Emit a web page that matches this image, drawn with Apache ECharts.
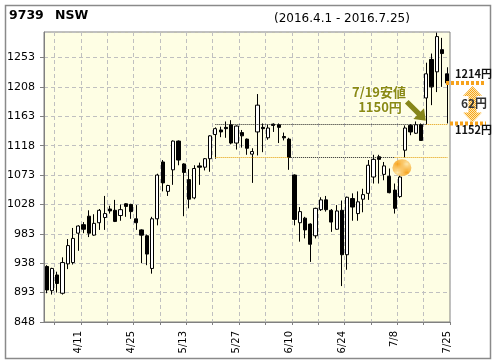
<!DOCTYPE html>
<html><head><meta charset="utf-8">
<script src="https://cdn.jsdelivr.net/npm/echarts@6/dist/echarts.min.js"></script>
<style>html,body{margin:0;padding:0;background:#fff}#c{width:496px;height:364px}</style>
</head><body><div id="c"></div>
<script>
const dates = ['4/1','4/4','4/5','4/6','4/7','4/8','4/11','4/12','4/13','4/14','4/15','4/18','4/19','4/20','4/21','4/22','4/25','4/26','4/27','4/28','5/2','5/6','5/9','5/10','5/11','5/12','5/13','5/16','5/17','5/18','5/19','5/20','5/23','5/24','5/25','5/26','5/27','5/30','5/31','6/1','6/2','6/3','6/6','6/7','6/8','6/9','6/10','6/13','6/14','6/15','6/16','6/17','6/20','6/21','6/22','6/23','6/24','6/27','6/28','6/29','6/30','7/1','7/4','7/5','7/6','7/7','7/8','7/11','7/12','7/13','7/14','7/15','7/19','7/20','7/21','7/22','7/25'];
const openP = [933,896,920,892,937,939,984,997,1010,981,
  1000,1008,1021,1019,1011,1029,1028,1006,989,980,
  930,1006,1093,1048,1081,1125,1090,1066,1038,1087,
  1085,1098,1135,1142,1146,1150,1122,1138,1128,1105,
  1139,1146,1130,1151,1150,1132,1128,1073,1000,1007,
  998,980,1020,1035,1019,990,1019,951,1037,1014,
  1036,1045,1070,1101,1074,1071,1050,1040,1111,1149,
  1137,1150,1191,1250,1231,1265,1228];
const highP = [935,931,925,947,975,992,996,1001,1019,1013,
  1021,1041,1026,1035,1028,1030,1029,1027,990,982,
  1009,1075,1096,1058,1126,1126,1091,1082,1088,1092,
  1099,1134,1146,1147,1155,1157,1149,1142,1129,1114,
  1197,1152,1150,1152,1152,1138,1130,1074,1024,1009,
  999,1023,1039,1041,1021,1027,1034,1040,1045,1048,
  1052,1096,1104,1104,1093,1083,1060,1079,1149,1151,
  1155,1152,1245,1259,1291,1283,1238];
const lowP = [892,890,893,890,929,936,957,984,978,980,
  989,989,1014,1001,1003,1009,1006,989,938,935,
  922,996,1048,1041,1058,1088,1010,1022,1036,1058,
  1080,1078,1098,1131,1130,1120,1112,1115,1104,1061,
  1103,1108,1127,1139,1122,1126,1081,996,971,976,
  940,976,1018,1017,986,989,903,928,1003,1003,
  1016,1035,1060,1060,1065,1045,1014,1038,1100,1134,
  1136,1150,1150,1180,1200,1208,1152];
const closeP = [897,930,907,939,965,976,995,990,984,999,
  1019,1014,1018,1002,1020,1025,1017,1000,981,952,
  1006,1073,1061,1057,1125,1096,1077,1036,1083,1085,
  1098,1133,1144,1139,1144,1122,1148,1133,1114,1109,
  1180,1144,1145,1149,1146,1130,1100,1005,1017,989,
  967,1022,1035,1020,1001,1018,951,1039,1024,1032,
  1043,1088,1097,1097,1087,1046,1022,1070,1145,1139,
  1150,1126,1228,1208,1285,1259,1214];
const yMin = 848, yMax = 1292, yStep = 45;
const xLabelDates = ['4/11','4/25','5/13','5/27','6/10','6/24','7/8','7/25'];
const titleCode = '9739', titleName = 'NSW', periodText = '(2016.4.1 - 2016.7.25)';
const lowDate = '7/19', lowValue = 1150, lowText1 = '7/19安値', lowText2 = '1150円';
const supportValue = 1100, lineStartDate = '5/23';
const rangeHigh = 1214, rangeLow = 1152, rangeDiffText = '62円';
const circleDate = '7/11', circleValue = 1084;

const ORANGE = '#f7a21b', OLIVE = '#8a8a14';
function checker(color, bg) {
  const c = document.createElement('canvas'); c.width = 2; c.height = 2;
  const g = c.getContext('2d');
  g.fillStyle = bg; g.fillRect(0, 0, 2, 2);
  g.fillStyle = color;
  g.fillRect(0, 0, 1, 1); g.fillRect(1, 1, 1, 1);
  return { image: c, repeat: 'repeat' };
}
const orangePat = checker(ORANGE, '#fde9b0');

const chart = echarts.init(document.getElementById('c'), null, { renderer: 'canvas' });
const candleData = dates.map((d, i) => [openP[i], closeP[i], lowP[i], highP[i]]);

const dark = { color: '#222', type: [1, 1], width: 1 };
const orng = { color: '#e39a00', type: [1, 1], width: 1 };

chart.setOption({
  animation: false,
  grid: { left: 44, right: 46, top: 32, bottom: 42, containLabel: false, outerBoundsMode: 'none',
          show: true, backgroundColor: '#fefee4', borderColor: '#808080', borderWidth: 1 },
  xAxis: {
    type: 'category', data: dates, boundaryGap: true,
    axisLine: { lineStyle: { color: '#808080', width: 1 } },
    axisTick: { show: true, interval: (i) => i % 5 === 2, length: 3, lineStyle: { color: '#808080' } },
    axisLabel: { interval: (i, v) => xLabelDates.includes(v), rotate: 90, margin: 9,
                 color: '#000', fontSize: 10, fontFamily: 'DejaVu Sans' },
    splitLine: { show: true, interval: (i) => i % 5 === 2, lineStyle: { color: '#c0c0c0', type: [4, 3] } }
  },
  yAxis: {
    type: 'value', min: yMin, max: yMax, interval: yStep, scale: true,
    axisLine: { show: true, lineStyle: { color: '#808080', width: 1 } },
    axisTick: { show: true, length: 4, lineStyle: { color: '#808080' } },
    axisLabel: { showMaxLabel: false, margin: 9, color: '#000', fontSize: 11, fontFamily: 'DejaVu Sans',
                 formatter: (v) => String(v) },
    splitLine: { show: true, lineStyle: { color: '#c0c0c0', type: [4, 3] } }
  },
  series: [{
    type: 'candlestick', data: candleData, barWidth: 3.6,
    itemStyle: { color: '#ffffff', color0: '#000000', borderColor: '#000000', borderColor0: '#000000', borderWidth: 1 },
    markLine: {
      silent: true, symbol: ['none', 'none'], label: { show: false }, animation: false,
      data: [
        [{ coord: [lineStartDate, lowValue], lineStyle: dark }, { coord: [lowDate, lowValue] }],
        [{ coord: [lowDate, lowValue], lineStyle: orng }, { coord: [dates[dates.length - 1], lowValue] }],
        [{ coord: [lineStartDate, supportValue], lineStyle: orng }, { coord: ['6/10', supportValue] }],
        [{ coord: ['6/10', supportValue], lineStyle: dark }, { coord: ['7/8', supportValue] }],
        [{ coord: ['7/8', supportValue], lineStyle: orng }, { coord: [dates[dates.length - 1], supportValue] }]
      ]
    },
    markPoint: {
      silent: true, animation: false, label: { show: false },
      data: [{ coord: [circleDate, circleValue], symbol: 'circle', symbolSize: [19, 17], symbolOffset: [2, 0],
               itemStyle: { color: orangePat } }]
    }
  }]
});

const yHi = chart.convertToPixel({ yAxisIndex: 0 }, rangeHigh);
const yLo = chart.convertToPixel({ yAxisIndex: 0 }, rangeLow);
const tipPt = chart.convertToPixel({ gridIndex: 0 }, [lowDate, lowValue]);

// olive arrow
const T = [tipPt[0] - 0.5, tipPt[1] - 4];
const u = [Math.SQRT1_2, Math.SQRT1_2], n = [-Math.SQRT1_2, Math.SQRT1_2];
const S = [T[0] - 19, T[1] - 19];
const B = [T[0] - u[0] * 10, T[1] - u[1] * 10];
const P = (p, k) => [p[0] + n[0] * k, p[1] + n[1] * k];
const oliveArrow = [P(S, 2.6), P(B, 2.6), P(B, 7.5), T, P(B, -7.5), P(B, -2.6), P(S, -2.6)];

// double arrow
const cx = 472.5, t = yHi + 3, b = yLo - 1, hw = 9.5, sw = 4, hh = 10;
const dbl = [[cx, t], [cx + hw, t + hh], [cx + sw, t + hh], [cx + sw, b - hh], [cx + hw, b - hh], [cx, b],
             [cx - hw, b - hh], [cx - sw, b - hh], [cx - sw, t + hh], [cx - hw, t + hh]];

chart.setOption({
  graphic: [
    { type: 'rect', z: 100, silent: true, shape: { x: 5.5, y: 5.5, width: 485, height: 353 },
      style: { fill: 'none', stroke: '#8a8a8a', lineWidth: 1.5 } },
    { type: 'text', z: 100, x: 9, y: 16, style: { text: titleCode, font: 'bold 12.5px "DejaVu Sans"', fill: '#000', verticalAlign: 'middle' } },
    { type: 'text', z: 100, x: 55, y: 16, style: { text: titleName, font: 'bold 12.5px "DejaVu Sans"', fill: '#000', verticalAlign: 'middle' } },
    { type: 'text', z: 100, x: 274, y: 19, style: { text: periodText, font: '12px "DejaVu Sans"', fill: '#000', verticalAlign: 'middle' } },
    { type: 'polygon', z: 100, shape: { points: oliveArrow }, style: { fill: '#86861a' } },
    { type: 'text', z: 100, x: 379, y: 92.5, style: { text: lowText1, font: 'bold 13px "Noto Sans CJK JP"', fill: OLIVE, align: 'center', verticalAlign: 'middle', stroke: '#fffff0', lineWidth: 2 } },
    { type: 'text', z: 100, x: 380, y: 107.5, style: { text: lowText2, font: 'bold 13px "Noto Sans CJK JP"', fill: OLIVE, align: 'center', verticalAlign: 'middle', stroke: '#fffff0', lineWidth: 2 } },
    { type: 'line', z: 100, shape: { x1: 446, y1: yHi, x2: 486, y2: yHi }, style: { stroke: ORANGE, lineWidth: 4, lineDash: [3, 2] } },
    { type: 'line', z: 100, shape: { x1: 450, y1: yLo, x2: 486, y2: yLo }, style: { stroke: ORANGE, lineWidth: 4, lineDash: [3, 2] } },
    { type: 'polygon', z: 100, shape: { points: dbl }, style: { fill: orangePat } },
    { type: 'text', z: 101, x: 474, y: (yHi + yLo) / 2, style: { text: rangeDiffText, font: 'bold 12px "Noto Sans CJK JP"', fill: '#333', align: 'center', verticalAlign: 'middle' } },
    { type: 'text', z: 101, x: 455, y: yHi - 9, style: { text: rangeHigh + '円', font: 'bold 11px "Noto Sans CJK JP"', fill: '#111', verticalAlign: 'middle' } },
    { type: 'text', z: 101, x: 455, y: yLo + 6.5, style: { text: rangeLow + '円', font: 'bold 11px "Noto Sans CJK JP"', fill: '#111', verticalAlign: 'middle' } }
  ]
});
</script></body></html>
